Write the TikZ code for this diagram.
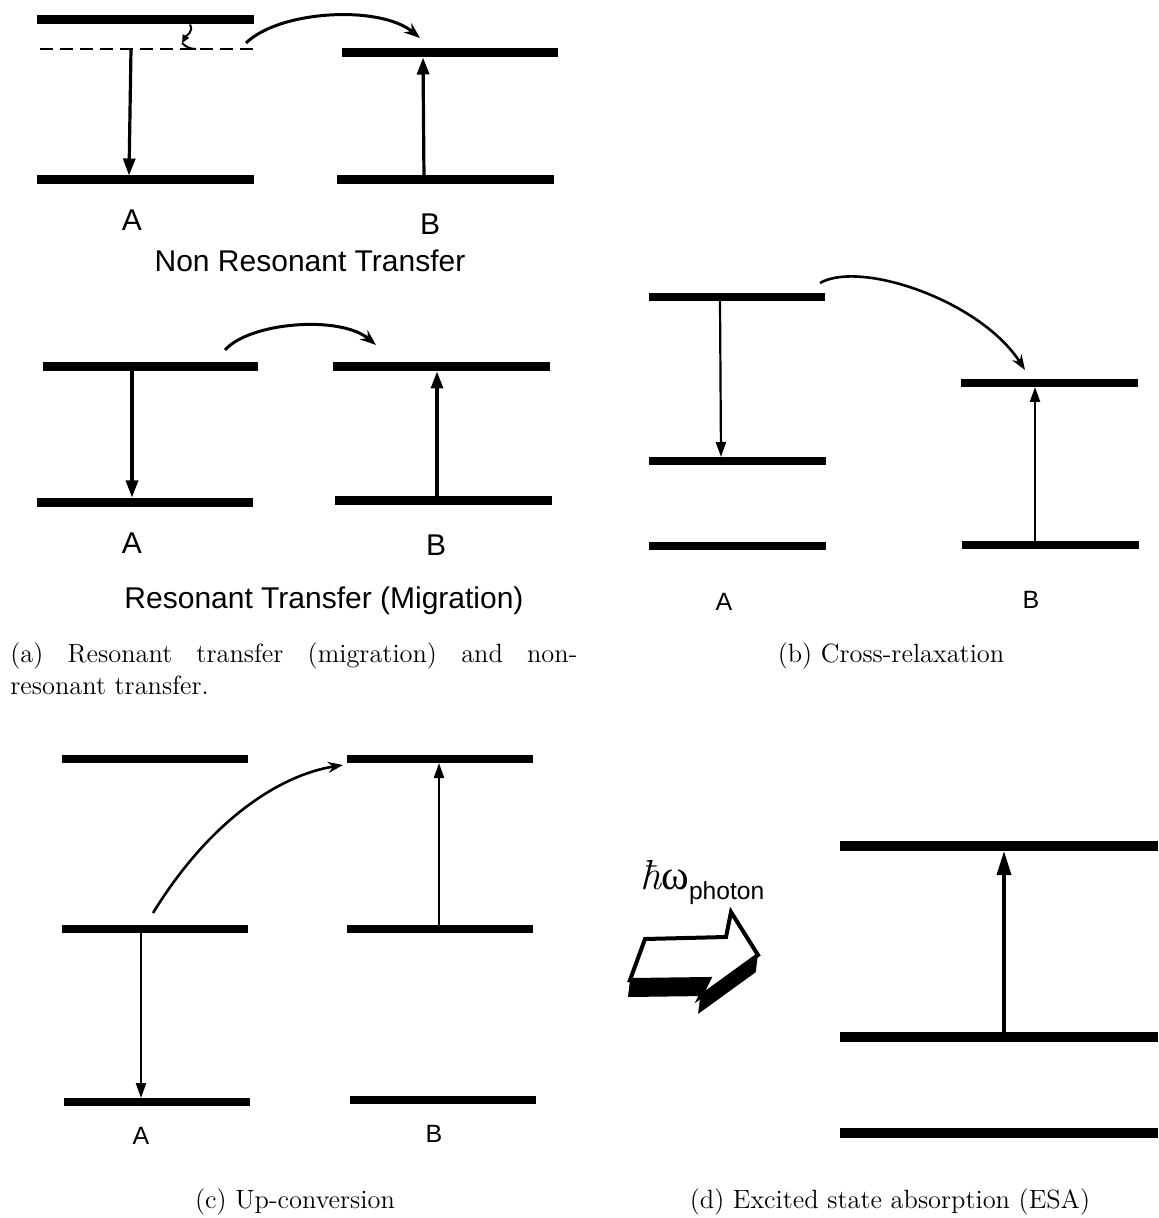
\documentclass[tikz,border=0pt]{standalone}
\usepackage{fontspec}
\setsansfont{Liberation Sans}
\newfontfamily\greekserif{Liberation Serif}
\usetikzlibrary{arrows.meta}
\begin{document}
\begin{tikzpicture}[x=0.5pt,y=-0.5pt,
  lvl/.style={line width=4.5pt},
  lvlb/.style={line width=4pt},
  lvld/.style={line width=5pt},
  trans/.style={line width=1.6pt,-{Triangle[length=8.5pt,width=6pt]}},
  transb/.style={line width=1.1pt,-{Triangle[length=7.5pt,width=5pt]}},
  transd/.style={line width=1.7pt,-{Triangle[length=12pt,width=7pt]}},
  hop/.style={line width=1.5pt,-{Stealth[length=8pt,width=6pt]}},
  hopb/.style={line width=1.3pt,-{Stealth[length=7.5pt,width=5.5pt]}},
  dashlvl/.style={line width=1pt,dash pattern=on 6.5pt off 3.5pt},
  lab/.style={font=\sffamily\fontsize{15}{18}\selectfont,inner sep=0pt},
  labs/.style={font=\sffamily\fontsize{12.5}{15}\selectfont,inner sep=0pt},
  captxt/.style={font=\fontsize{13.2}{16}\selectfont,inner sep=0pt}]
\useasboundingbox (0,0) rectangle (1158,1218);

% ---------- (a) Non resonant transfer ----------
\draw[lvl] (37,20) -- (254,20);
\draw[dashlvl] (40,49) -- (253,49);
\draw[lvl] (37,180) -- (254,180);
\draw[lvl] (342,53) -- (558,53);
\draw[lvl] (337,180) -- (554,180);
\coordinate (a1s) at (131,49);
\coordinate (a1e) at (129,175.5);
\coordinate (b1s) at (424,180);
\coordinate (b1e) at (423,57.5);
\coordinate (h1s) at (246,43);
\coordinate (h1e) at (420,38);
\coordinate (w1) at (190,24.5);
\coordinate (w2) at (182,43);
\coordinate (w3) at (196,49);
\draw[trans] (a1s) -- (a1e);
\draw[trans] (b1s) -- (b1e);
\draw[hop] (h1s) .. controls (280,10) and (380,5) .. (h1e);
\draw[line width=1pt,-{Triangle[length=4pt,width=3.5pt]}] (w1) .. controls (194,32) and (186,36) .. (w2);
\draw[line width=1pt] (w2) .. controls (186,47) and (190,49) .. (w3);
\node[lab,anchor=base] (lA1) at (132,231) {A};
\node[lab,anchor=base] (lB1) at (430,235) {B};
\node[lab,anchor=base] (tNR) at (310,272) {Non Resonant Transfer};

% ---------- (a) Resonant transfer ----------
\draw[lvl] (43,367) -- (258,367);
\draw[lvl] (37,502) -- (253,502);
\draw[lvl] (333,367) -- (550,367);
\draw[lvl] (335,500) -- (552,500);
\coordinate (a2s) at (132,371.5);
\coordinate (a2e) at (132,497.5);
\coordinate (b2s) at (437,495.5);
\coordinate (b2e) at (437,371.5);
\coordinate (h2s) at (225,350);
\coordinate (h2e) at (376,345);
\draw[trans] (a2s) -- (a2e);
\draw[trans] (b2s) -- (b2e);
\draw[hop] (h2s) .. controls (250,322) and (340,315) .. (h2e);
\node[lab,anchor=base] (lA2) at (132,553) {A};
\node[lab,anchor=base] (lB2) at (436,555) {B};
\node[lab,anchor=base] (tRT) at (324,608) {Resonant Transfer (Migration)};

\node[captxt,anchor=base west] (capa) at (10,662) {\parbox[t]{283.5pt}{(a) Resonant transfer (migration) and non-resonant transfer.}};

% ---------- (b) Cross-relaxation ----------
\draw[lvlb] (649,297) -- (825,297);
\draw[lvlb] (649,461) -- (826,461);
\draw[lvlb] (649,546) -- (826,546);
\draw[lvlb] (961,383) -- (1138,383);
\draw[lvlb] (962,545) -- (1139,545);
\coordinate (a3s) at (720,301);
\coordinate (a3e) at (721,457);
\coordinate (b3s) at (1035,541);
\coordinate (b3e) at (1035,387);
\coordinate (h3s) at (820,283);
\coordinate (h3e) at (1025,370);
\draw[transb] (a3s) -- (a3e);
\draw[transb] (b3s) -- (b3e);
\draw[hopb] (h3s) .. controls (860,260) and (980,300) .. (h3e);
\node[labs,anchor=base] (lA3) at (724,610) {A};
\node[labs,anchor=base] (lB3) at (1031,608) {B};
\node[captxt,anchor=base] (capb) at (891,662) {(b) Cross-relaxation};

% ---------- (c) Up-conversion ----------
\draw[lvlb] (62,759) -- (248,759);
\draw[lvlb] (62,929) -- (248,929);
\draw[lvlb] (64,1102) -- (250,1102);
\draw[lvlb] (347,759) -- (533,759);
\draw[lvlb] (347,929) -- (533,929);
\draw[lvlb] (350,1100) -- (536,1100);
\coordinate (a4s) at (141,933);
\coordinate (a4e) at (141,1098);
\coordinate (b4s) at (439,925);
\coordinate (b4e) at (439,763);
\coordinate (h4s) at (153,913);
\coordinate (h4e) at (343,765);
\draw[transb] (a4s) -- (a4e);
\draw[transb] (b4s) -- (b4e);
\draw[hopb] (h4s) .. controls (210,820) and (280,775) .. (h4e);
\node[labs,anchor=base] (lA4) at (141,1144) {A};
\node[labs,anchor=base] (lB4) at (434,1142) {B};
\node[captxt,anchor=base] (capc) at (295,1208) {(c) Up-conversion};

% ---------- (d) ESA ----------
\draw[lvld] (840,846) -- (1158,846);
\draw[lvld] (840,1037) -- (1158,1037);
\draw[lvld] (840,1133) -- (1158,1133);
\coordinate (d1s) at (1004,1032);
\coordinate (d1e) at (1004,851);
\draw[transd] (d1s) -- (d1e);
\node[inner sep=0pt,anchor=base west,font=\fontsize{21}{24}\selectfont] (hw) at (640,889) {{\itshape ħ}{\greekserif ω}\raisebox{-5pt}{\sffamily\fontsize{12.3}{14}\selectfont photon}};
\foreach \s in {0,1,...,17} {
  \fill[black,shift={(-0.12*\s,\s)}] (645,939) -- (726,937) -- (731,912) -- (758,955) -- (700,997) -- (709,979) -- (630,980) -- cycle;
}
\draw[line width=2pt,fill=white,line join=miter] (645,939) -- (726,937) -- (731,912) -- (758,955) -- (700,997) -- (709,979) -- (630,980) -- cycle;
\node[captxt,anchor=base] (capd) at (890,1208) {(d) Excited state absorption (ESA)};
\end{tikzpicture}
\end{document}
